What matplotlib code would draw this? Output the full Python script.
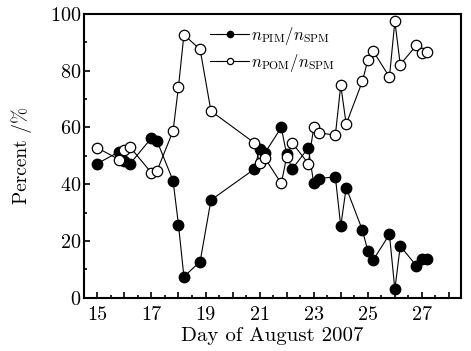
import numpy as np
import matplotlib
matplotlib.use('Agg')
import matplotlib.pyplot as plt
from matplotlib.ticker import MultipleLocator, FuncFormatter

# sampling days (August 2007) and fractions in percent
days = [15.0, 15.8, 16.0, 16.2, 17.0, 17.2, 17.8, 18.0, 18.2, 18.8, 19.2,
        20.8, 21.0, 21.2, 21.8, 22.0, 22.2, 22.8, 23.0, 23.2, 23.8, 24.0,
        24.2, 24.8, 25.0, 25.2, 25.8, 26.0, 26.2, 26.8, 27.0, 27.2]
pim = [47.3, 51.4, 48.1, 47.1, 56.3, 55.4, 41.2, 25.6, 7.4, 12.7, 34.4,
       45.3, 52.3, 51.1, 60.0, 50.5, 45.3, 52.8, 40.3, 42.0, 42.6, 25.2,
       38.8, 23.8, 16.5, 13.3, 22.3, 2.9, 18.2, 11.2, 13.7, 13.5]
pom = [52.8, 48.7, 52.0, 53.2, 44.0, 44.6, 58.8, 74.4, 92.7, 87.5, 65.8,
       54.6, 47.5, 49.1, 40.3, 49.6, 54.6, 47.3, 60.0, 58.1, 57.3, 74.9,
       61.2, 76.3, 83.7, 86.9, 77.8, 97.4, 82.2, 89.0, 86.3, 86.6]

plt.rcParams['font.family'] = 'cmr10'
plt.rcParams['mathtext.fontset'] = 'cm'
plt.rcParams['axes.formatter.use_mathtext'] = True

fig = plt.figure(figsize=(4.71, 3.51), dpi=100)
ax = fig.add_axes([0.178, 0.152, 0.801, 0.808])

ax.plot(days, pim, '-o', color='black', lw=0.8, ms=7.5, mfc='black', mec='black',
        label=r'$n_{\mathrm{PIM}}/n_{\mathrm{SPM}}$')
ax.plot(days, pom, '-o', color='black', lw=0.8, ms=7.5, mfc='white', mec='black',
        mew=0.9, label=r'$n_{\mathrm{POM}}/n_{\mathrm{SPM}}$')

ax.set_xlim(14.5, 28.45)
ax.set_ylim(0, 100)

ax.xaxis.set_major_locator(MultipleLocator(1))
ax.xaxis.set_minor_locator(MultipleLocator(0.5))
ax.xaxis.set_major_formatter(FuncFormatter(lambda v, p: '%d' % v if int(round(v)) % 2 == 1 else ''))
ax.yaxis.set_major_locator(MultipleLocator(20))
ax.yaxis.set_minor_locator(MultipleLocator(10))

ax.tick_params(which='both', direction='in', top=False, right=False, labelsize=14.5, width=1.2)
ax.tick_params(which='major', length=4.5)
ax.tick_params(which='minor', length=2.5)
ax.tick_params(axis='x', which='major', pad=6)
ax.tick_params(axis='y', which='major', pad=2)
for s in ax.spines.values():
    s.set_linewidth(1.5)

ax.set_xlabel('Day of August 2007', fontsize=15, labelpad=2)
ax.set_ylabel('Percent /%', fontsize=14, labelpad=12.5)

leg = ax.legend(loc='upper left', bbox_to_anchor=(0.318, 0.985), frameon=False,
                fontsize=12, handlelength=2.3, handletextpad=0.15, labelspacing=0.3,
                markerscale=0.6, borderaxespad=0)

fig.savefig('out.png', dpi=100)
